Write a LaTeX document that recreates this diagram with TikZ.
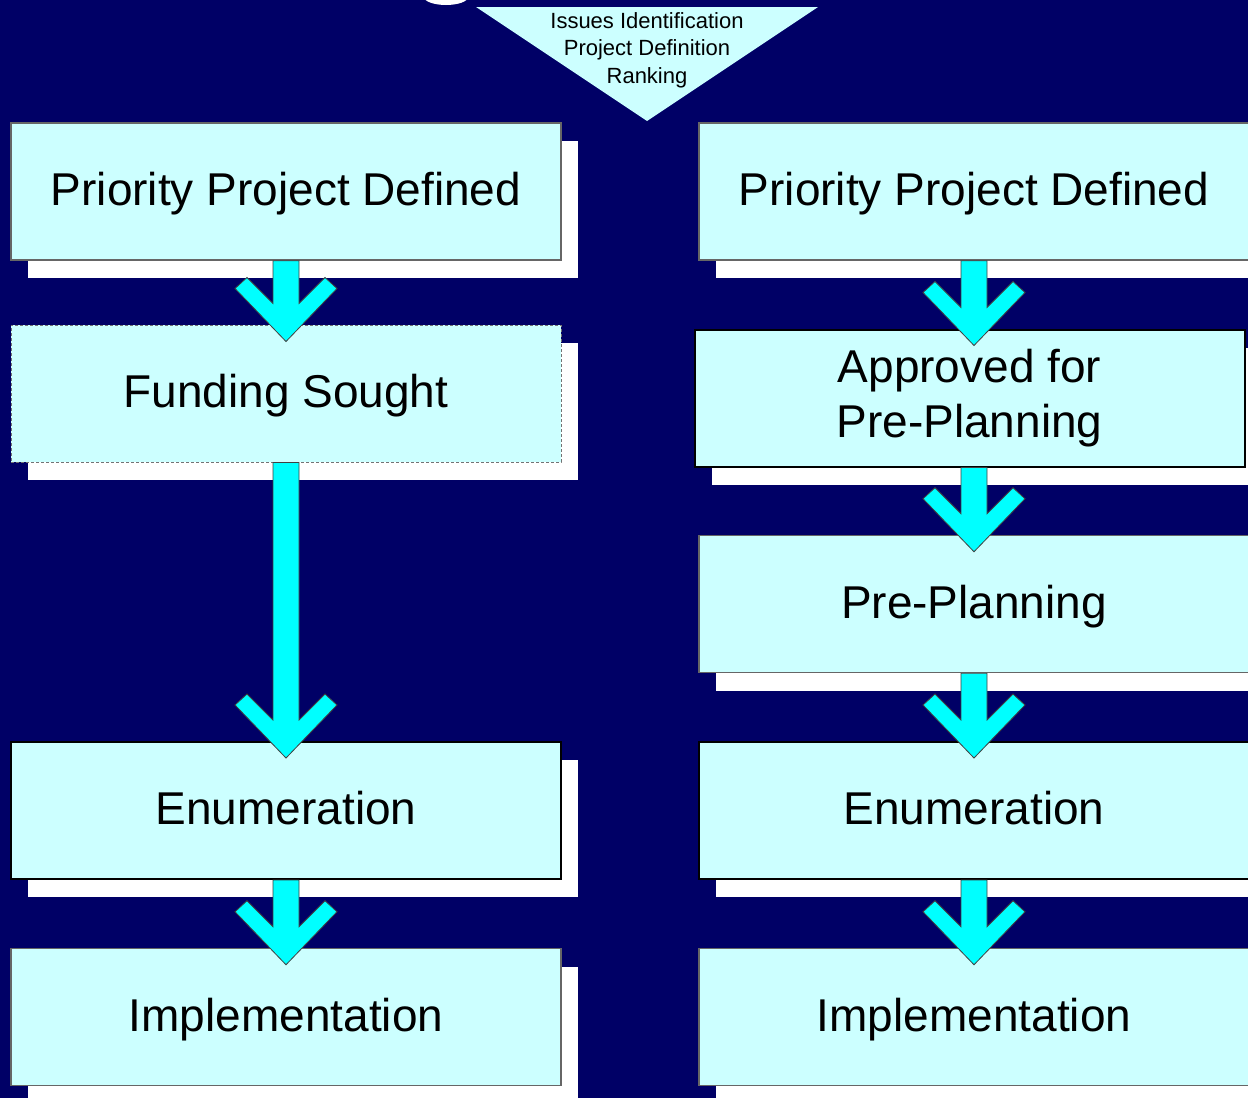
\documentclass[tikz,border=0pt]{standalone}
\usepackage{fontspec}
\setmainfont{Liberation Sans}
\usetikzlibrary{calc,shadows}
\definecolor{navybg}{RGB}{0,0,102}
\definecolor{boxcyan}{RGB}{204,255,255}
\definecolor{arrowcyan}{RGB}{0,255,255}
% fat chevron arrow: shaft leaves #1, tip lands just inside #2, at x = #3
\newcommand{\flowarrow}[3]{%
  \coordinate (colx) at (#3,0);
  \coordinate (tip) at ($(#2.north -| colx)+(0,17)$);
  \coordinate (top) at (#1.south -| colx);
  \draw[flowarr] ($(top)+(-13,0)$) -- ($(tip)+(-13,-38)$) -- ($(tip)+(-39,-64)$)
    -- ($(tip)+(-51,-53)$) -- (tip) -- ($(tip)+(51,-53)$) -- ($(tip)+(39,-64)$)
    -- ($(tip)+(13,-38)$) -- ($(top)+(13,0)$) -- cycle;}

\begin{document}
\begin{tikzpicture}[x=1pt,y=-1pt,
  stepbox/.style={rectangle,fill=boxcyan,draw=black!60,line width=1.5pt,
    minimum width=550pt,minimum height=137pt,inner sep=0pt,align=center,
    text height=34pt,text depth=6pt,
    font=\fontsize{46}{55}\selectfont,
    drop shadow={shadow xshift=17pt,shadow yshift=-18pt,fill=white,opacity=1}},
  boldbox/.style={stepbox,draw=black,line width=2pt},
  dashbox/.style={stepbox,draw=black!55,line width=1pt,dash pattern=on 3pt off 2pt},
  flowarr/.style={fill=arrowcyan,draw=black!75,line width=0.8pt,line join=miter}]
				%%%%% START %%%%%
				\def\W{1248}
				\def\H{1098}
				\def\xl{286}
				\def\xr{974}
				
				\useasboundingbox (0,0) rectangle (\W,\H);
				\clip (0,0) rectangle (\W,\H);
				\fill[navybg] (0,0) rectangle (\W,\H);
				
				% bit of the cut-off title above
				\fill[white] (446,-3) ellipse (22 and 8);
				
				% funnel at the top
				\fill[boxcyan] (476,7) -- (818,7) -- (647,121) -- cycle;
				\node[align=center,font=\fontsize{22}{27.5}\selectfont] (steps) at (647,50)
				  {Issues Identification\\Project Definition\\Ranking};
				
				% left track
				\node[stepbox] (lpri) at (\xl,191.5) {Priority Project Defined};
				\node[dashbox] (lfund) at (\xl,393.5) {Funding Sought};
				\node[boldbox] (lenum) at (\xl,810.5) {Enumeration};
				\node[stepbox] (limpl) at (\xl,1017) {Implementation};
				
				% right track
				\node[stepbox] (rpri) at (\xr,191.5) {Priority Project Defined};
				\node[boldbox,text height=,text depth=] (rappr) at (969.5,398) {Approved for\\Pre-Planning};
				\node[stepbox] (rpre) at (\xr,604) {Pre-Planning};
				\node[boldbox] (renum) at (\xr,810.5) {Enumeration};
				\node[stepbox] (rimpl) at (\xr,1017) {Implementation};
				
				\flowarrow{lpri}{lfund}{\xl}
				\flowarrow{lfund}{lenum}{\xl}
				\flowarrow{lenum}{limpl}{\xl}
				
				\flowarrow{rpri}{rappr}{\xr}
				\flowarrow{rappr}{rpre}{\xr}
				\flowarrow{rpre}{renum}{\xr}
				\flowarrow{renum}{rimpl}{\xr}
				%%%%% END %%%%%
\end{tikzpicture}
\end{document}
